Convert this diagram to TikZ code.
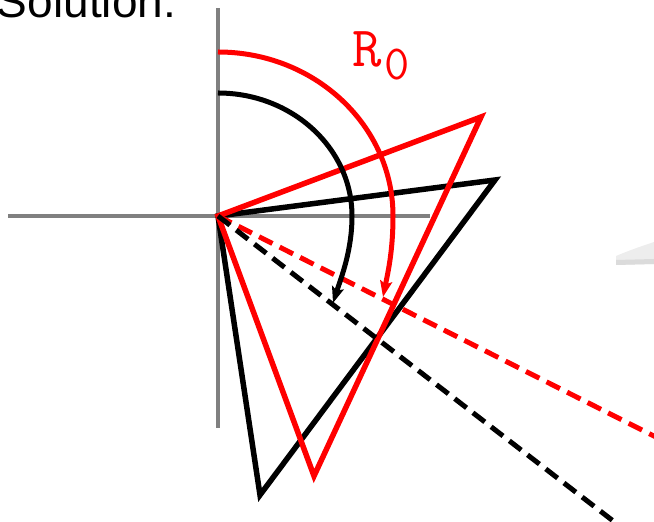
\documentclass[tikz,border=0pt]{standalone}
\usepackage{fontspec}
\newfontfamily\arialfont{Liberation Sans}
\usetikzlibrary{arrows.meta}
\definecolor{axisgray}{RGB}{128,128,128}
\definecolor{pred}{RGB}{255,0,0}
\tikzset{
  axisline/.style={draw=axisgray,line width=4pt},
  tri/.style={line width=5.5pt,miter limit=20},
  dashline/.style={line width=5pt,dash pattern=on 15pt off 8pt},
  rotarc/.style={line width=5pt,-{Stealth[length=16pt,width=12pt,inset=3pt]}},
  lbl/.style={inner sep=0pt,outer sep=0pt}
}
\begin{document}
\begin{tikzpicture}[x=1pt,y=1pt]
\useasboundingbox (0,0) rectangle (654,522);
% origin
\coordinate (O) at (218,306);
% axes
\coordinate (ytop) at (218,514);
\coordinate (ybot) at (218,94);
\coordinate (xl) at (8,306);
\coordinate (xr) at (430,306);
\draw[axisline] (ybot) -- (ytop);
\draw[axisline] (xl) -- (xr);
% faint smudge at right
\fill[gray!14] (616,266) .. controls (630,272) and (645,277) .. (654,280) -- (654,258) -- (616,257) -- cycle;
\fill[gray!28] (616,262) -- (654,263) -- (654,258) -- (616,257) -- cycle;
% black triangle
\coordinate (B1) at (495,342);
\coordinate (B2) at (260,27);
\draw[tri,black] (O) -- (B1) -- (B2) -- cycle;
% red triangle
\coordinate (R1) at (481,405);
\coordinate (R2) at (314,46);
\draw[tri,pred] (O) -- (R1) -- (R2) -- cycle;
% dashed lines
\coordinate (RD) at (700,62.7);
\coordinate (BD) at (615,-0.4);
\draw[dashline,pred] (O) -- (RD);
\draw[dashline,black] (O) -- (BD);
% arcs
\coordinate (BA) at (218,429);
\coordinate (BT) at (333,219);
\coordinate (RA) at (218,470);
\coordinate (RT) at (383,225);
\draw[rotarc,black] (BA) arc[start angle=90,end angle=0,x radius=134,y radius=123]
  .. controls +(0,-35) and +(8,25) .. (BT);
\draw[rotarc,pred] (RA) arc[start angle=90,end angle=0,x radius=175,y radius=164]
  .. controls +(0,-35) and +(5,25) .. (RT);
% labels
\node[lbl,anchor=base west,text=pred] (r0) at (352,455) {\fontsize{57}{60}\selectfont\ttfamily R\kern3pt\raisebox{-13pt}{\fontsize{49}{50}\selectfont 0}};
\node[lbl,anchor=base west] (sol) at (-3,504) {\arialfont\fontsize{46}{50}\selectfont Solution:};
\end{tikzpicture}
\end{document}
